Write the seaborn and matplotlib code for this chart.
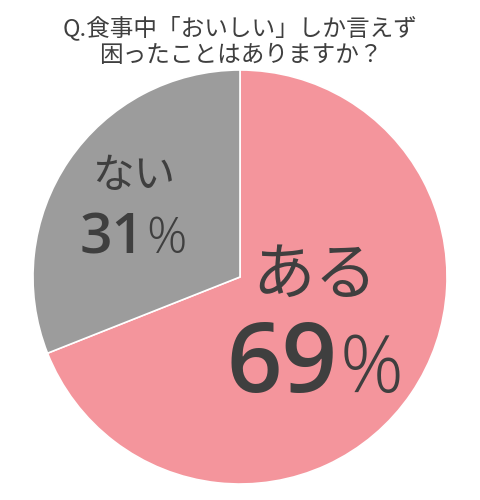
import matplotlib
matplotlib.use("Agg")
import matplotlib.pyplot as plt
import seaborn as sns

# --- data ---
LABELS = ["ある", "ない"]
VALUES = [69, 31]
COLORS = ["#F4959C", "#9C9C9C"]
TITLE = "Q.食事中「おいしい」しか言えず\n困ったことはありますか？"

W, H = 481, 500
TEXT_COLOR = "#3F3F3F"


def main():
    sns.set_theme(style="white")
    plt.rcParams["font.family"] = ["Noto Sans CJK JP", "DejaVu Sans"]

    fig = plt.figure(figsize=(W / 100, H / 100), dpi=100)
    ax = fig.add_axes([0, 0, 1, 1])

    # pie, clockwise from 12 o'clock
    cx, cy, r = 240, H - 277, 207
    ax.pie(VALUES, colors=COLORS, startangle=90, counterclock=False,
           center=(cx, cy), radius=r, frame=True,
           wedgeprops=dict(edgecolor="white", linewidth=1.2))
    ax.set_xlim(0, W)
    ax.set_ylim(0, H)
    ax.set_aspect("equal")
    ax.axis("off")

    # title
    ax.text(W / 2, H - 41, TITLE, ha="center", va="center", fontsize=17,
            color=TEXT_COLOR, linespacing=1.2)

    # big slice
    ax.text(315, H - 276, LABELS[0], ha="center", va="center", fontsize=45,
            color=TEXT_COLOR)
    ax.text(338, H - 392, f"{VALUES[0]}", ha="right", va="baseline",
            fontsize=70, color=TEXT_COLOR, family=["Open Sans"], fontweight="semibold")
    ax.text(340, H - 392, "%", ha="left", va="baseline",
            fontsize=57, color=TEXT_COLOR, family=["Open Sans"], fontweight="light")

    # small slice
    ax.text(145, H - 253, f"{VALUES[1]}", ha="right", va="baseline",
            fontsize=41, color=TEXT_COLOR, family=["Open Sans"], fontweight="semibold")
    ax.text(146, H - 253, "%", ha="left", va="baseline",
            fontsize=36, color=TEXT_COLOR, family=["Open Sans"], fontweight="light")
    ax.text(134, H - 176, LABELS[1], ha="center", va="center", fontsize=30,
            color=TEXT_COLOR)

    fig.savefig("out.png", dpi=100, facecolor="white")
    plt.close(fig)


if __name__ == "__main__":
    main()
